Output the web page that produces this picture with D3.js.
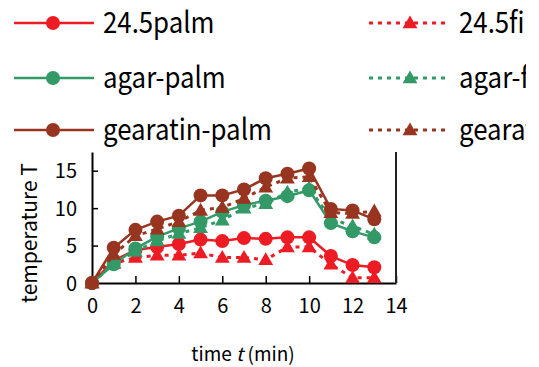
<!DOCTYPE html>
<html>
<head>
<meta charset="utf-8">
<script src="https://cdn.jsdelivr.net/npm/d3@7"></script>
<style>
  body { margin: 0; background: #fff; }
  svg { display: block; font-family: "Noto Sans CJK JP", "Noto Sans", sans-serif; }
</style>
</head>
<body>
<div id="chart"></div>
<script>
// time axis (min)
var times = [0, 1, 2, 3, 4, 5, 6, 7, 8, 9, 10, 11, 12, 13];

// temperature values
var palm245  = [0, 3.0, 4.4, 4.8, 5.2, 5.8, 5.6, 6.0, 5.9, 6.1, 6.1, 3.6, 2.4, 2.1];
var film245  = [0, 2.6, 3.4, 3.7, 3.7, 4.0, 3.4, 3.4, 3.1, 4.8, 4.8, 2.5, 0.7, 0.7];
var agarPalm = [0, 2.5, 4.6, 6.2, 7.3, 8.2, 9.5, 10.4, 11.0, 11.6, 12.4, 8.0, 6.9, 6.1];
var agarFilm = [0, 2.7, 4.2, 5.6, 6.6, 7.4, 8.4, 10.0, 10.6, 12.1, 12.7, 8.6, 7.6, 6.5];
var gearPalm = [0, 4.7, 7.1, 8.2, 9.0, 11.7, 11.7, 12.5, 14.0, 14.6, 15.3, 9.9, 9.7, 8.5];
var gearFilm = [0, 3.8, 6.3, 7.2, 8.2, 9.7, 10.1, 11.3, 12.8, 14.0, 14.2, 9.4, 9.3, 9.6];

var seriesNames = ["24.5palm", "24.5film", "agar-palm", "agar-film", "gearatin-palm", "gearatin-film"];
var xTicks = [0, 2, 4, 6, 8, 10, 12, 14];
var yTicks = [0, 5, 10, 15];

var red = "#ed1c24", green = "#339966", brown = "#983520";

// series table built from the arrays above
var series = [
  { name: seriesNames[0], values: palm245,  color: red,   film: false },
  { name: seriesNames[1], values: film245,  color: red,   film: true },
  { name: seriesNames[2], values: agarPalm, color: green, film: false },
  { name: seriesNames[3], values: agarFilm, color: green, film: true },
  { name: seriesNames[4], values: gearPalm, color: brown, film: false },
  { name: seriesNames[5], values: gearFilm, color: brown, film: true }
];

var W = 539, H = 367;
var svg = d3.select("#chart").append("svg")
  .attr("width", W)
  .attr("height", H);

// the original picture is cropped a little before its right edge
svg.append("clipPath").attr("id", "crop")
  .append("rect").attr("width", 526).attr("height", H);
var root = svg.append("g").attr("clip-path", "url(#crop)");

var x = d3.scaleLinear().domain([0, 14]).range([92, 396]);
var y = d3.scaleLinear().domain([0, 17.5]).range([283, 152]);

// axes: ticks point inwards
var xAxis = root.append("g")
  .attr("transform", "translate(0," + y(0) + ")")
  .call(d3.axisBottom(x).tickValues(xTicks).tickSizeInner(-7).tickSizeOuter(0).tickPadding(20));
var yAxis = root.append("g")
  .attr("transform", "translate(" + x(0) + ",0)")
  .call(d3.axisLeft(y).tickValues(yTicks).tickSizeInner(-6).tickSizeOuter(0).tickPadding(15));

[xAxis, yAxis].forEach(function(g){
  g.select(".domain").attr("stroke", "#000").attr("stroke-width", 2);
  g.selectAll(".tick line").attr("stroke", "#000").attr("stroke-width", 1.5);
  g.selectAll(".tick text")
    .attr("fill", "#000")
    .style("font-size", "20px")
    .style("font-family", '"Noto Sans CJK JP", sans-serif');
});
xAxis.selectAll(".tick text").attr("dy", "0.5em");
yAxis.selectAll(".tick text").attr("dy", "0.35em");

// right frame line
root.append("line")
  .attr("x1", x(14)).attr("x2", x(14))
  .attr("y1", y(17.5)).attr("y2", y(0))
  .attr("stroke", "#222").attr("stroke-width", 2);

// axis titles
var xt = root.append("text")
  .attr("x", 243).attr("y", 361)
  .attr("text-anchor", "middle")
  .style("font-size", "19px");
xt.append("tspan").text("time ");
xt.append("tspan").attr("font-style", "italic").text("t");
xt.append("tspan").text(" (min)");

root.append("text")
  .attr("transform", "translate(37,233) rotate(-90)")
  .attr("text-anchor", "middle")
  .style("font-size", "21px")
  .text("temperature T");

var line = d3.line()
  .x(function(d, i){ return x(times[i]); })
  .y(function(d){ return y(d); });

var triangle = d3.symbol().type(d3.symbolTriangle).size(95);

series.forEach(function(s){
  root.append("path")
    .attr("d", line(s.values))
    .attr("fill", "none")
    .attr("stroke", s.color)
    .attr("stroke-width", s.film ? 3 : 2.5)
    .attr("stroke-dasharray", s.film ? "4,5" : null);

  var pts = root.append("g").selectAll("g")
    .data(s.values)
    .enter();
  if (s.film) {
    pts.append("path")
      .attr("d", triangle)
      .attr("transform", function(d, i){ return "translate(" + x(times[i]) + "," + (y(d) + 1) + ")"; })
      .attr("fill", s.color);
  } else {
    pts.append("circle")
      .attr("cx", function(d, i){ return x(times[i]); })
      .attr("cy", function(d){ return y(d); })
      .attr("r", 7)
      .attr("fill", s.color);
  }
});

// legend: palms in left column, films in right column
var legend = root.append("g");
var rows = [23, 78, 130];
series.forEach(function(s, i){
  var col = s.film ? 1 : 0;
  var row = Math.floor(i / 2);
  var x0 = col ? 369 : 14, x1 = col ? 447 : 94;
  var g = legend.append("g").attr("transform", "translate(0," + rows[row] + ")");
  g.append("line")
    .attr("x1", x0).attr("x2", x1)
    .attr("stroke", s.color)
    .attr("stroke-width", s.film ? 3 : 2.5)
    .attr("stroke-dasharray", s.film ? "4,5" : null);
  var mx = col ? 410 : 53;
  if (s.film) {
    g.append("path").attr("d", triangle).attr("transform", "translate(" + mx + ",1)").attr("fill", s.color);
  } else {
    g.append("circle").attr("cx", mx).attr("r", 7).attr("fill", s.color);
  }
  // narrow lettering like the original gothic face
  g.append("g")
    .attr("transform", "translate(" + (col ? 459 : 103) + ",0) scale(0.89,1)")
    .append("text")
    .attr("dy", "0.36em")
    .style("font-size", "29px")
    .attr("fill", "#000")
    .text(s.name);
});
</script>
</body>
</html>
